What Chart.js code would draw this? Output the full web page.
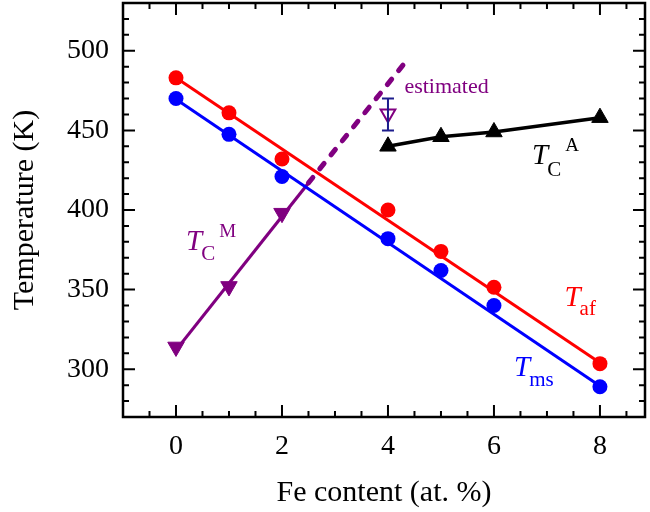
<!DOCTYPE html>
<html lang="en">
<head>
<meta charset="UTF-8">
<title>Transition temperatures vs Fe content</title>
<script src="https://cdn.jsdelivr.net/npm/chart.js@4"></script>
<style>
  html, body { margin: 0; padding: 0; background: #fff; }
</style>
</head>
<body>
<canvas id="chart" width="650" height="512"></canvas>
<script>
// values (x = Fe content in at. %, y = temperature in K)
const FE = [0, 1, 2, 4, 5, 6, 8];
const T_AF = [483, 461, 432, 400, 374, 351.5, 303.5];
const T_MS = [470, 447.5, 421, 382, 362, 340, 289];
const TCM_X = [0, 1, 2];
const TCM = [314, 352, 398];
const TCA_X = [4, 5, 6, 8];
const TCA = [440, 446, 449, 458];

// straight fits through the measured points
const FIT_X = [0, 8];
const T_AF_FIT = [483, 304];
const T_MS_FIT = [469.5, 289.5];
const TCM_FIT_X = [0, 2.5];
const TCM_FIT = [312, 417];
const TCM_EST_X = [2.5, 4.38];
const TCM_EST = [417, 495];

// estimated point with its error bar
const EST_X = [4];
const EST_T = [460.5];
const EST_ERR = [450, 470];

const X_TICKS = [0, 2, 4, 6, 8];
const Y_TICKS = [300, 350, 400, 450, 500];

const SERIF = '"Liberation Serif", "Times New Roman", serif';
const PURPLE = '#800080';

const pts = (xs, ys) => xs.map((x, i) => ({ x: x, y: ys[i] }));

function majorMinor(min, max, step) {
    const out = [];
    for (let v = Math.ceil(min / step) * step; v <= max + 1e-9; v += step) out.push(+v.toFixed(3));
    return out;
}

// no label overhang: the frame is placed by the fixed axis sizes only
function noPadding(s) {
    s.paddingTop = 0; s.paddingBottom = 0; s.paddingLeft = 0; s.paddingRight = 0;
}

// frame with inward ticks on all four sides, error bar and the curve labels
const decorations = {
    id: 'decorations',
    afterDraw(chart) {
        const { ctx, chartArea: a, scales: { x, y } } = chart;
        ctx.save();

        ctx.strokeStyle = '#000';
        ctx.lineWidth = 2.5;
        ctx.strokeRect(a.left, a.top, a.right - a.left, a.bottom - a.top);

        ctx.lineWidth = 2;
        ctx.beginPath();
        majorMinor(x.min, x.max, 0.5).forEach(v => {
            const px = x.getPixelForValue(v);
            const len = X_TICKS.includes(v) ? 12 : 6;
            ctx.moveTo(px, a.bottom); ctx.lineTo(px, a.bottom - len);
            ctx.moveTo(px, a.top); ctx.lineTo(px, a.top + len);
        });
        majorMinor(y.min, y.max, 10).forEach(v => {
            const py = y.getPixelForValue(v);
            const len = Y_TICKS.includes(v) ? 12 : 6;
            ctx.moveTo(a.left, py); ctx.lineTo(a.left + len, py);
            ctx.moveTo(a.right, py); ctx.lineTo(a.right - len, py);
        });
        ctx.stroke();

        // error bar on the estimated point
        const ex = x.getPixelForValue(EST_X[0]);
        const e0 = y.getPixelForValue(EST_ERR[0]);
        const e1 = y.getPixelForValue(EST_ERR[1]);
        ctx.strokeStyle = '#1c1c8c';
        ctx.lineWidth = 2;
        ctx.beginPath();
        ctx.moveTo(ex, e0); ctx.lineTo(ex, e1);
        ctx.moveTo(ex - 6, e0); ctx.lineTo(ex + 6, e0);
        ctx.moveTo(ex - 6, e1); ctx.lineTo(ex + 6, e1);
        ctx.stroke();

        ctx.textBaseline = 'alphabetic';
        ctx.textAlign = 'left';
        const sym = (vx, vy, color, sub, subDy, sup) => {
            const px = x.getPixelForValue(vx), py = y.getPixelForValue(vy);
            ctx.fillStyle = color;
            ctx.font = 'italic 29px ' + SERIF;
            ctx.fillText('T', px, py);
            const tw = ctx.measureText('T').width;
            ctx.font = '21px ' + SERIF;
            ctx.fillText(sub, px + tw - 1, py + subDy);
            if (sup) {
                const sw = ctx.measureText(sub).width;
                ctx.font = '19px ' + SERIF;
                ctx.fillText(sup, px + tw + sw + 3, py - 13);
            }
        };
        sym(6.72, 428.8, '#000', 'C', 12, 'A');
        sym(0.19, 374.6, PURPLE, 'C', 10, 'M');
        sym(7.33, 340, '#ff0000', 'af', 9);
        sym(6.38, 296, '#0000ff', 'ms', 10);

        ctx.fillStyle = PURPLE;
        ctx.font = '22px ' + SERIF;
        ctx.fillText('estimated', x.getPixelForValue(4.31), y.getPixelForValue(473.3));

        ctx.restore();
    }
};

new Chart(document.getElementById('chart').getContext('2d'), {
    type: 'scatter',
    data: {
        datasets: [
            {
                label: 'TC A',
                data: pts(TCA_X, TCA),
                showLine: true,
                borderColor: '#000',
                backgroundColor: '#000',
                borderWidth: 3.5,
                pointStyle: 'triangle',
                pointRadius: 9.5,
                pointBorderWidth: 1
            },
            {
                label: 'TC M',
                data: pts(TCM_X, TCM),
                borderColor: PURPLE,
                backgroundColor: PURPLE,
                pointStyle: 'triangle',
                rotation: 180,
                pointRadius: 9.5,
                pointBorderWidth: 1
            },
            {
                label: 'estimated',
                data: pts(EST_X, EST_T),
                borderColor: PURPLE,
                backgroundColor: '#fff',
                pointStyle: 'triangle',
                rotation: 180,
                pointRadius: 8.5,
                pointBorderWidth: 2
            },
            {
                label: 'Taf',
                data: pts(FE, T_AF),
                borderColor: '#ff0000',
                backgroundColor: '#ff0000',
                pointRadius: 7.5,
                pointBorderWidth: 0
            },
            {
                label: 'Tms',
                data: pts(FE, T_MS),
                borderColor: '#0000ff',
                backgroundColor: '#0000ff',
                pointRadius: 7.5,
                pointBorderWidth: 0
            },
            {
                label: 'Taf fit',
                data: pts(FIT_X, T_AF_FIT),
                showLine: true,
                borderColor: '#ff0000',
                borderWidth: 3,
                pointRadius: 0
            },
            {
                label: 'Tms fit',
                data: pts(FIT_X, T_MS_FIT),
                showLine: true,
                borderColor: '#0000ff',
                borderWidth: 3,
                pointRadius: 0
            },
            {
                label: 'TC M fit',
                data: pts(TCM_FIT_X, TCM_FIT),
                showLine: true,
                borderColor: PURPLE,
                borderWidth: 3.2,
                pointRadius: 0
            },
            {
                label: 'TC M estimated',
                data: pts(TCM_EST_X, TCM_EST),
                showLine: true,
                borderColor: PURPLE,
                borderWidth: 5,
                borderDash: [7, 11],
                borderCapStyle: 'round',
                pointRadius: 0
            }
        ]
    },
    options: {
        responsive: false,
        animation: false,
        events: [],
        layout: { autoPadding: false, padding: { top: 3, right: 5, left: 0, bottom: 0 } },
        plugins: {
            legend: { display: false },
            title: { display: false },
            tooltip: { enabled: false }
        },
        scales: {
            x: {
                type: 'linear',
                min: -1,
                max: 8.85,
                grid: { display: false, drawTicks: false },
                border: { display: false },
                afterBuildTicks: s => { s.ticks = X_TICKS.map(v => ({ value: v })); },
                afterFit: s => { s.height = 95; noPadding(s); },
                ticks: { color: '#000', padding: 13, font: { family: SERIF, size: 28 } },
                title: {
                    display: true,
                    text: 'Fe content (at. %)',
                    color: '#000',
                    font: { family: SERIF, size: 30 },
                    padding: { top: 0, bottom: 1 }
                }
            },
            y: {
                min: 270,
                max: 530,
                grid: { display: false, drawTicks: false },
                border: { display: false },
                afterBuildTicks: s => { s.ticks = Y_TICKS.map(v => ({ value: v })); },
                afterFit: s => { s.width = 123; noPadding(s); },
                ticks: { color: '#000', padding: 14, font: { family: SERIF, size: 28 } },
                title: {
                    display: true,
                    text: 'Temperature (K)',
                    color: '#000',
                    font: { family: SERIF, size: 30 },
                    padding: { top: 7, bottom: 0 }
                }
            }
        }
    },
    plugins: [decorations]
});
</script>
</body>
</html>
